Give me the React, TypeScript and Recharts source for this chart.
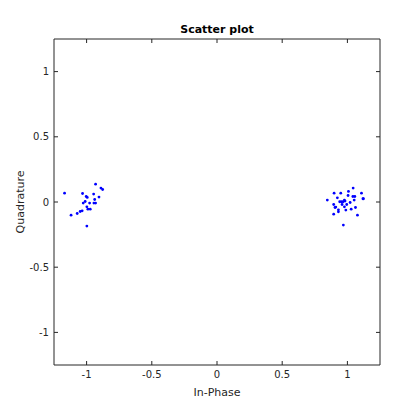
import { ScatterChart, Scatter, XAxis, YAxis } from "recharts";

// constellation point around -1
const leftI = [-0.931, -0.89, -0.877, -1.169, -1.031, -0.946, -1.003, -0.995, -0.905, -0.938, -1.011, -1.026, -0.977, -0.944, -0.931, -0.998, -0.99, -0.972, -1.034, -1.049, -1.072, -1.119, -0.998];
const leftQ = [0.137, 0.107, 0.096, 0.068, 0.065, 0.061, 0.042, 0.035, 0.038, 0.019, 0.004, -0.008, -0.008, -0.008, -0.008, -0.037, -0.055, -0.055, -0.068, -0.073, -0.088, -0.101, -0.185];

// constellation point around +1
const rightI = [1.044, 1.008, 0.898, 0.949, 1.108, 1.005, 1.042, 1.057, 0.923, 0.846, 0.977, 1.052, 1.119, 1.123, 0.941, 0.954, 0.967, 0.982, 1.021, 0.895, 0.959, 0.995, 0.905, 0.911, 0.977, 1.062, 1.029, 0.931, 0.931, 0.988, 0.895, 1.077, 0.969];
const rightQ = [0.107, 0.081, 0.068, 0.068, 0.068, 0.05, 0.042, 0.042, 0.032, 0.015, 0.015, 0.015, 0.025, 0.025, 0.002, 0.002, 0.002, 0.007, -0.004, -0.019, -0.019, -0.019, -0.042, -0.039, -0.037, -0.042, -0.055, -0.06, -0.075, -0.062, -0.093, -0.101, -0.177];

const ticks = [-1, -0.5, 0, 0.5, 1];
const domain: [number, number] = [-1.25, 1.25];

const points = [
  ...leftI.map((x, i) => ({ x, y: leftQ[i] })),
  ...rightI.map((x, i) => ({ x, y: rightQ[i] })),
];

const axisColor = "#262626";
const tickFont = { fontSize: 10, fill: axisColor, fontFamily: "DejaVu Sans" };

const Dot = (props: any) => <circle cx={props.cx} cy={props.cy} r={1.4} fill="#0000ff" />;
const NoDot = () => <g />;

export default function App() {
  return (
    <div style={{ position: "absolute", left: 0, top: 0, width: 420, height: 420, background: "#fff", fontFamily: "DejaVu Sans" }}>
      <div style={{ position: "absolute", top: 23, left: 0, width: 434, textAlign: "center", fontSize: 11, fontWeight: "bold", color: "#000" }}>
        Scatter plot
      </div>
      <ScatterChart width={420} height={420} margin={{ top: 38, right: 39, bottom: 0, left: 0 }}>
        <XAxis
          type="number"
          dataKey="x"
          domain={domain}
          ticks={ticks}
          allowDataOverflow
          height={55}
          tickSize={-4}
          tickMargin={10}
          stroke={axisColor}
          tick={tickFont}
          label={{ value: "In-Phase", position: "insideBottom", offset: 24, fontSize: 11, fill: axisColor }}
        />
        <XAxis
          xAxisId="top"
          orientation="top"
          type="number"
          dataKey="x"
          domain={domain}
          ticks={ticks}
          allowDataOverflow
          height={1}
          tickSize={-4}
          stroke={axisColor}
          tickFormatter={() => ""}
        />
        <YAxis
          type="number"
          dataKey="y"
          domain={domain}
          ticks={ticks}
          allowDataOverflow
          width={54}
          tickSize={-4}
          tickMargin={9}
          stroke={axisColor}
          tick={tickFont}
          label={{ value: "Quadrature", angle: -90, position: "insideLeft", offset: 20, fontSize: 11, fill: axisColor, style: { textAnchor: "middle" } }}
        />
        <YAxis
          yAxisId="right"
          orientation="right"
          type="number"
          dataKey="y"
          domain={domain}
          ticks={ticks}
          allowDataOverflow
          width={1}
          tickSize={-4}
          stroke={axisColor}
          tickFormatter={() => ""}
        />
        <Scatter data={points} shape={<Dot />} isAnimationActive={false} />
        <Scatter data={points} xAxisId="top" yAxisId="right" shape={<NoDot />} isAnimationActive={false} legendType="none" />
      </ScatterChart>
    </div>
  );
}
